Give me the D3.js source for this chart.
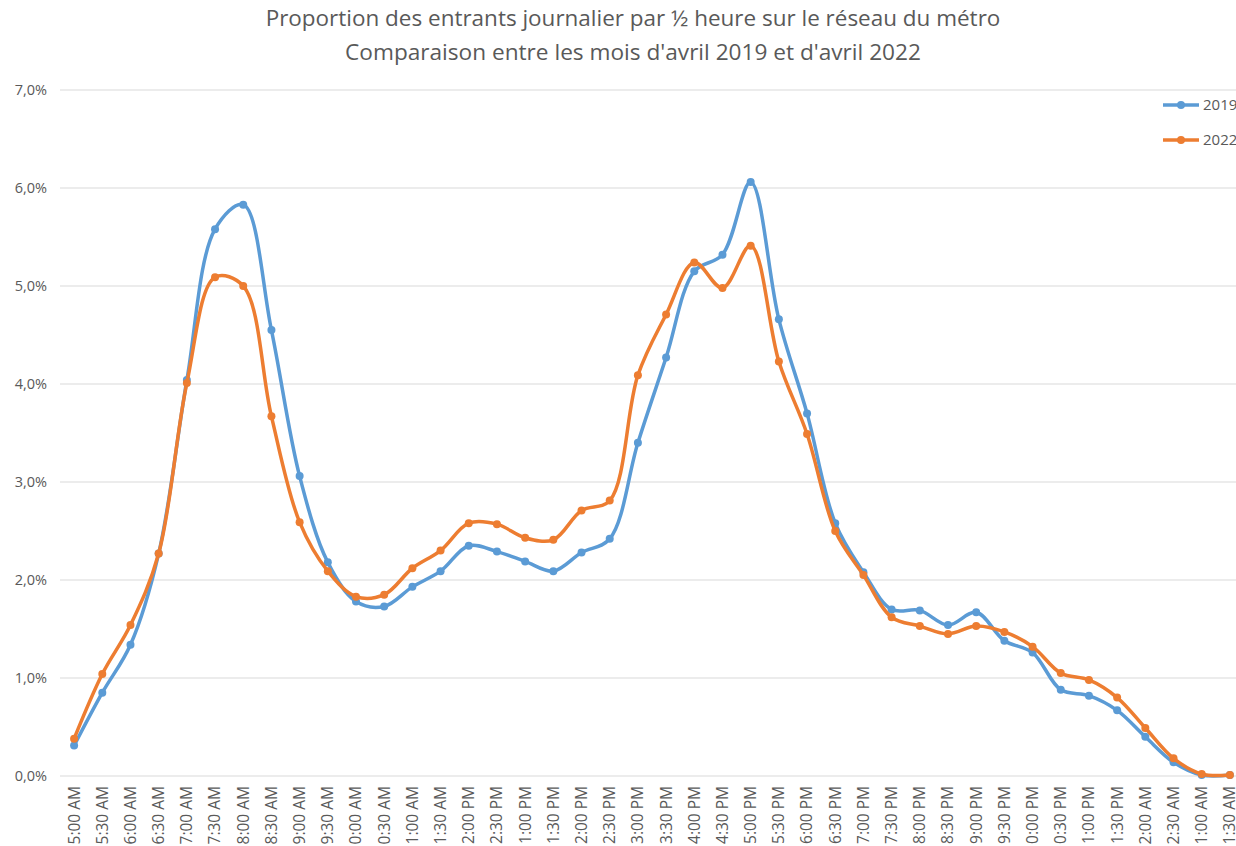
<!DOCTYPE html>
<html>
<head>
<meta charset="utf-8">
<script src="https://cdn.jsdelivr.net/npm/d3@7"></script>
<style>
  html, body { margin: 0; padding: 0; background: #fff; }
  svg { display: block; font-family: "Open Sans", "Noto Sans", sans-serif; }
</style>
</head>
<body>
<svg id="chart" width="1236" height="846"></svg>
<script>
// Half-hour slots, from the first morning departures to after midnight
const slots = [
  "5:00 AM","5:30 AM","6:00 AM","6:30 AM","7:00 AM","7:30 AM","8:00 AM","8:30 AM",
  "9:00 AM","9:30 AM","10:00 AM","10:30 AM","11:00 AM","11:30 AM",
  "12:00 PM","12:30 PM","1:00 PM","1:30 PM","2:00 PM","2:30 PM","3:00 PM","3:30 PM",
  "4:00 PM","4:30 PM","5:00 PM","5:30 PM","6:00 PM","6:30 PM","7:00 PM","7:30 PM",
  "8:00 PM","8:30 PM","9:00 PM","9:30 PM","10:00 PM","10:30 PM","11:00 PM","11:30 PM",
  "12:00 AM","12:30 AM","1:00 AM","1:30 AM"
];

// Share of daily entries per slot (%)
const avril2019 = [
  0.31, 0.85, 1.34, 2.27, 4.04, 5.58, 5.83, 4.55, 3.06, 2.18, 1.78, 1.73, 1.93, 2.09,
  2.35, 2.29, 2.19, 2.09, 2.28, 2.42, 3.40, 4.27, 5.15, 5.32, 6.06, 4.66, 3.70, 2.58,
  2.08, 1.70, 1.69, 1.54, 1.67, 1.38, 1.26, 0.88, 0.82, 0.67, 0.40, 0.14, 0.01, 0.01
];
const avril2022 = [
  0.38, 1.04, 1.54, 2.27, 4.01, 5.09, 5.00, 3.67, 2.59, 2.09, 1.83, 1.85, 2.12, 2.30,
  2.58, 2.57, 2.43, 2.41, 2.71, 2.81, 4.09, 4.71, 5.24, 4.98, 5.41, 4.23, 3.49, 2.50,
  2.05, 1.62, 1.53, 1.45, 1.53, 1.47, 1.32, 1.05, 0.98, 0.80, 0.49, 0.18, 0.02, 0.01
];

const seriesNames = ["2019", "2022"];
const seriesColors = ["#5b9bd5", "#ed7d31"];
const yTicks = [0, 1, 2, 3, 4, 5, 6, 7];
const titleLines = [
  "Proportion des entrants journalier par \u00BD heure sur le r\u00E9seau du m\u00E9tro",
  "Comparaison entre les mois d'avril 2019 et d'avril 2022"
];

const series = [avril2019, avril2022].map((vals, i) => ({
  name: seriesNames[i],
  color: seriesColors[i],
  values: vals.map((v, j) => ({ slot: slots[j], v }))
}));

const svg = d3.select("#chart");
const textColor = "#595959";

const x = d3.scaleBand().domain(slots).range([60, 1244]);
const cx = d => x(d) + x.bandwidth() / 2;
const y = d3.scaleLinear().domain([0, 7]).range([776, 90]);

// Horizontal gridlines
svg.append("g")
  .selectAll("line")
  .data(yTicks)
  .join("line")
  .attr("x1", 60).attr("x2", 1244)
  .attr("y1", d => y(d)).attr("y2", d => y(d))
  .attr("stroke", "#d9d9d9").attr("stroke-width", 1);

// Y axis labels
const yAxis = d3.axisLeft(y)
  .tickValues(yTicks)
  .tickSize(0)
  .tickPadding(0)
  .tickFormat(d => d3.format(".1f")(d).replace(".", ",") + "%");
svg.append("g")
  .attr("transform", "translate(47,0)")
  .call(yAxis)
  .call(g => g.select(".domain").remove())
  .call(g => g.selectAll("text")
    .attr("fill", textColor)
    .style("font-size", "14.5px")
    .style("font-family", "\"Open Sans\", sans-serif"));

// X axis labels, rotated
const xAxis = d3.axisBottom(x).tickSize(0).tickPadding(0);
svg.append("g")
  .attr("transform", "translate(0,776)")
  .call(xAxis)
  .call(g => g.select(".domain").remove())
  .call(g => g.selectAll("text")
    .attr("fill", textColor)
    .style("font-size", "15.5px")
    .style("font-family", "\"Open Sans\", sans-serif")
    .attr("text-anchor", "end")
    .attr("dy", "0.35em")
    .attr("transform", "translate(0,10) rotate(-90)")
    .attr("x", 0).attr("y", 0));

// Smoothed lines with markers
const line = d3.line()
  .x(d => cx(d.slot))
  .y(d => y(d.v))
  .curve(d3.curveCatmullRom.alpha(0.5));

series.forEach(s => {
  const g = svg.append("g");
  g.append("path")
    .datum(s.values)
    .attr("fill", "none")
    .attr("stroke", s.color)
    .attr("stroke-width", 3.5)
    .attr("stroke-linejoin", "round")
    .attr("stroke-linecap", "round")
    .attr("d", line);
  g.selectAll("circle")
    .data(s.values)
    .join("circle")
    .attr("cx", d => cx(d.slot))
    .attr("cy", d => y(d.v))
    .attr("r", 4)
    .attr("fill", s.color);
});

// Legend
const legend = svg.append("g");
series.forEach((s, i) => {
  const ly = 105 + i * 35;
  legend.append("line")
    .attr("x1", 1163).attr("x2", 1199)
    .attr("y1", ly).attr("y2", ly)
    .attr("stroke", s.color).attr("stroke-width", 3.5);
  legend.append("circle")
    .attr("cx", 1181).attr("cy", ly).attr("r", 4)
    .attr("fill", s.color);
  legend.append("text")
    .attr("x", 1203).attr("y", ly)
    .attr("dy", "0.35em")
    .attr("fill", textColor)
    .style("font-size", "15px")
    .text(s.name);
});

// Title, two centred lines
const titleWidths = [735, 576];
titleLines.forEach((t, i) => {
  const el = svg.append("text")
    .attr("x", 633)
    .attr("y", 26 + i * 34)
    .attr("text-anchor", "middle")
    .attr("fill", textColor)
    .style("font-size", "18px")
    .text(t);
  const w = el.node().getComputedTextLength();
  if (w > 0) el.style("font-size", (18 * titleWidths[i] / w).toFixed(2) + "px");
});
</script>
</body>
</html>
